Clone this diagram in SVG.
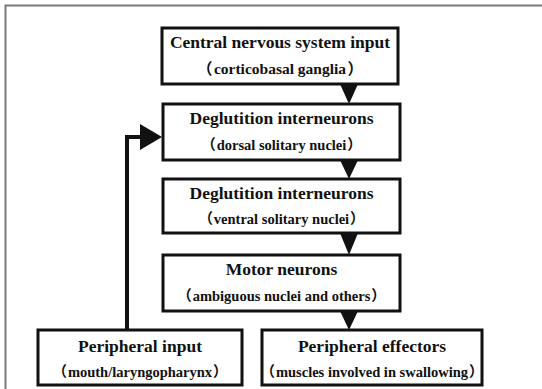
<svg xmlns="http://www.w3.org/2000/svg" width="542" height="389" viewBox="0 0 542 389">
<style>
.box{fill:#fff;stroke:#111;stroke-width:3}
.t{font-family:"Liberation Serif","Times New Roman","Noto Sans CJK SC",serif;font-weight:bold;font-size:17.5px;fill:#111;text-anchor:middle}
.s{font-family:"Liberation Serif","Times New Roman","Noto Sans CJK SC",serif;font-weight:bold;font-size:14.5px;fill:#111;text-anchor:middle}
.tri{fill:#111}
.frame{fill:none;stroke:#7a7a7a;stroke-width:2}
</style>
<rect width="542" height="389" fill="#fff"/>
<path class="frame" d="M5.5,389 V5.5 H542"/>
<g id="connectors">
<polygon class="tri" points="340,84 358,84 349,104"/>
<polygon class="tri" points="340,160 358,160 349,179"/>
<polygon class="tri" points="340,233 358,233 349,255"/>
<polygon class="tri" points="340,311 358,311 349,330"/>
<polyline points="127,330 127,137 142,137" fill="none" stroke="#111" stroke-width="4"/>
<polygon class="tri" points="140,124 162,137 140,150"/>
</g>
<g id="cns">
<rect class="box" x="162" y="28" width="236" height="56"/>
<text class="t" x="280" y="48">Central nervous system input</text>
<text class="s" x="280" y="74" style="font-size:15.5px">（<tspan dx="1.5">corticobasal ganglia</tspan><tspan dx="1.5">）</tspan></text>
</g>
<g id="dorsal">
<rect class="box" x="163" y="104" width="237" height="56"/>
<text class="t" x="281.5" y="124">Deglutition interneurons</text>
<text class="s" x="281.5" y="150">（<tspan dx="0.8">dorsal solitary nuclei</tspan><tspan dx="0.8">）</tspan></text>
</g>
<g id="ventral">
<rect class="box" x="163" y="179" width="237" height="54"/>
<text class="t" x="281.5" y="199">Deglutition interneurons</text>
<text class="s" x="281.5" y="224">（<tspan dx="0.8">ventral solitary nuclei</tspan><tspan dx="0.8">）</tspan></text>
</g>
<g id="motor">
<rect class="box" x="163" y="255" width="237" height="56"/>
<text class="t" x="281.5" y="275">Motor neurons</text>
<text class="s" x="281.5" y="301">（<tspan dx="0.8">ambiguous nuclei and others</tspan><tspan dx="0.8">）</tspan></text>
</g>
<g id="peripheral-input">
<rect class="box" x="38" y="330" width="204" height="55"/>
<text class="t" x="140" y="352">Peripheral input</text>
<text class="s" x="140" y="377">（<tspan dx="0.8">mouth/laryngopharynx</tspan><tspan dx="0.8">）</tspan></text>
</g>
<g id="peripheral-effectors">
<rect class="box" x="262" y="330" width="220" height="55"/>
<text class="t" x="372" y="352">Peripheral effectors</text>
<text class="s" x="372" y="377">（<tspan dx="0.8">muscles involved in swallowing</tspan><tspan dx="0.8">）</tspan></text>
</g>
</svg>
